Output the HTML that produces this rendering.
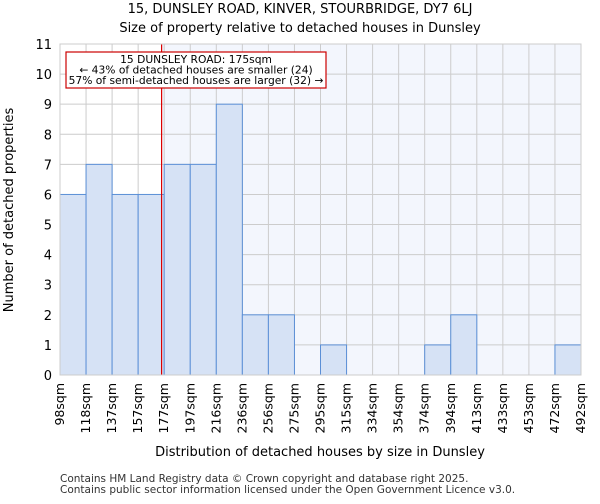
<!DOCTYPE html>
<html><head><meta charset="utf-8"><style>body{margin:0;background:#fff;font-family:"DejaVu Sans","Liberation Sans",sans-serif}</style></head>
<body>
<svg id="c" width="600" height="500" xmlns="http://www.w3.org/2000/svg" font-family="DejaVu Sans, Liberation Sans, sans-serif"></svg>
<script>
const binLabels=["98sqm","118sqm","137sqm","157sqm","177sqm","197sqm","216sqm","236sqm","256sqm","275sqm","295sqm","315sqm","334sqm","354sqm","374sqm","394sqm","413sqm","433sqm","453sqm","472sqm","492sqm"];
const counts=[6,7,6,6,7,7,9,2,2,0,1,0,0,0,1,2,0,0,0,1];
const yTicks=[0,1,2,3,4,5,6,7,8,9,10,11];
const markerBinPos=3.9;
const svg=document.getElementById('c');const NS='http://www.w3.org/2000/svg';
const L=60,R=581,T=44,B=375,yMax=11;
const n=counts.length,bw=(R-L)/n;
const x=i=>L+i*bw, y=v=>B-(v/yMax)*(B-T);
function mk(t,a,p){const e=document.createElementNS(NS,t);for(const k in a)e.setAttribute(k,a[k]);(p||svg).appendChild(e);return e;}
function txt(s,a,name){const e=mk('text',a);e.textContent=s;return e;}
const mx=x(markerBinPos);
let bg=mk('rect',{x:mx,y:T,width:R-mx,height:B-T,fill:'#f3f6fd'});


for(const v of yTicks){let g=mk('line',{x1:L,x2:R,y1:y(v),y2:y(v),stroke:'#cccccc'});


txt(String(v),{x:L-8,y:y(v)+5,'text-anchor':'end','font-size':13},'y-tick-label');}
for(let i=0;i<=n;i++){let g=mk('line',{x1:x(i),x2:x(i),y1:T,y2:B,stroke:'#cccccc'});

}
counts.forEach((c,i)=>{if(!c)return;let r=mk('rect',{x:x(i),y:y(c),width:bw,height:B-y(c),fill:'#d6e2f5',stroke:'#5b8fd6','stroke-width':1});

});
binLabels.forEach((s,i)=>{const tx=x(i)+4,ty=B+8;txt(s,{x:tx,y:ty,'font-size':12.5,'text-anchor':'end',transform:`rotate(-90 ${tx} ${ty})`},'x-tick-label');});
let ml=mk('line',{x1:mx,x2:mx,y1:T,y2:B,stroke:'#dd0000','stroke-width':1.2});


let bx=mk('rect',{x:66,y:52,width:260,height:36,fill:'#fff',stroke:'#cc0000','stroke-width':1.2});


txt('15 DUNSLEY ROAD: 175sqm',{x:196,y:63,'text-anchor':'middle','font-size':10.7},'annotation-title');
txt('← 43% of detached houses are smaller (24)',{x:196,y:73.5,'text-anchor':'middle','font-size':10.7},'annotation-smaller');
txt('57% of semi-detached houses are larger (32) →',{x:196,y:84,'text-anchor':'middle','font-size':10.7},'annotation-larger');
let ax=mk('rect',{x:L,y:T,width:R-L,height:B-T,fill:'none',stroke:'#cccccc'});


txt('15, DUNSLEY ROAD, KINVER, STOURBRIDGE, DY7 6LJ',{x:300,y:13,'text-anchor':'middle','font-size':13},'chart-title');
txt('Size of property relative to detached houses in Dunsley',{x:300,y:32,'text-anchor':'middle','font-size':13},'chart-subtitle');
txt('Distribution of detached houses by size in Dunsley',{x:320,y:456,'text-anchor':'middle','font-size':13},'x-axis-title');
txt('Number of detached properties',{x:13,y:210,'text-anchor':'middle','font-size':13,transform:'rotate(-90 13 210)'},'y-axis-title');
txt('Contains HM Land Registry data © Crown copyright and database right 2025.',{x:60,y:482,'font-size':10.5,fill:'#333'},'footer-line1');
txt('Contains public sector information licensed under the Open Government Licence v3.0.',{x:60,y:493,'font-size':10.5,fill:'#333'},'footer-line2');
</script>
</body></html>
